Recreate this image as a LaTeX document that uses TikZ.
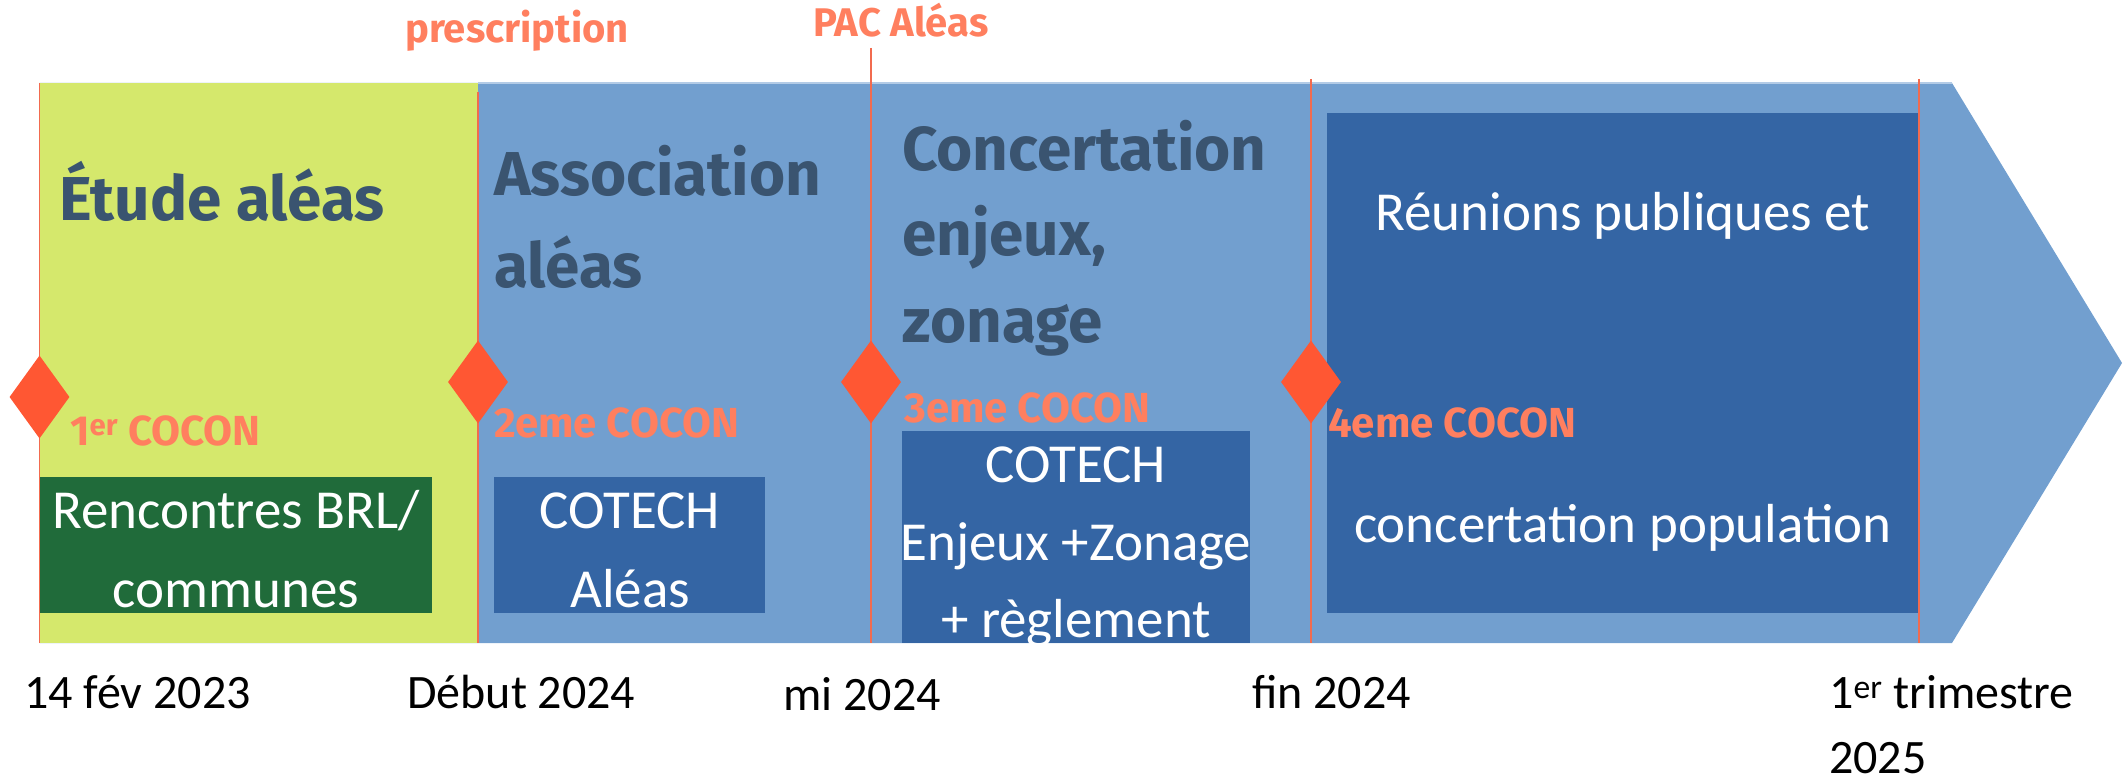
\documentclass[tikz,border=0pt]{standalone}
\usepackage{fontspec}
\usetikzlibrary{shapes.geometric}
\newfontfamily\titlefont{Fira Sans}
\newfontfamily\calfont{Carlito}
\definecolor{bandgreen}{HTML}{D5E86C}
\definecolor{bandblue}{HTML}{729FCF}
\definecolor{boxblue}{HTML}{3465A4}
\definecolor{boxgreen}{HTML}{206B3A}
\definecolor{titleblue}{HTML}{3A5470}
\definecolor{diamondred}{HTML}{FF5733}
\definecolor{salmon}{HTML}{FF7F5F}
\definecolor{linered}{HTML}{F26B4F}
\definecolor{edgeblue}{HTML}{B3CBE6}
\tikzset{
  title/.style={anchor=base west, inner sep=0pt, text=titleblue,
    font=\titlefont\bfseries\fontsize{62}{62}\selectfont},
  cocon/.style={anchor=base west, inner sep=0pt, text=salmon,
    font=\titlefont\bfseries\fontsize{42}{42}\selectfont},
  toplabel/.style={anchor=base west, inner sep=0pt, text=salmon,
    font=\titlefont\bfseries\fontsize{40}{40}\selectfont},
  boxtext/.style={anchor=base, inner sep=0pt, text=white,
    font=\calfont\fontsize{55}{55}\selectfont},
  datetext/.style={anchor=base west, inner sep=0pt, text=black,
    font=\calfont\fontsize{48}{48}\selectfont},
  milestone/.style={diamond, fill=diamondred, draw=none, inner sep=0pt,
    minimum width=60pt, minimum height=83pt},
  marker/.style={draw=linered, line width=1.3pt},
}
\begin{document}
\begin{tikzpicture}[x=1pt,y=-1pt]
\useasboundingbox (0,0) rectangle (2125,781);
% arrow band
\fill[bandblue] (39.5,83) -- (1952,83) -- (2122,363) -- (1952,643) -- (39.5,643) -- cycle;
\draw[edgeblue, line width=1.5pt] (478,83) -- (1952,83);
\fill[bandgreen] (39.5,83) rectangle (478,643);
% boxes
\node[fill=boxgreen, minimum width=392.5pt, minimum height=136pt, inner sep=0pt, anchor=north west] (brl) at (39.5,477) {};
\node[fill=boxblue, minimum width=271pt, minimum height=136pt, inner sep=0pt, anchor=north west] (cot1) at (494,477) {};
\node[fill=boxblue, minimum width=348pt, minimum height=212pt, inner sep=0pt, anchor=north west] (cot2) at (902,431) {};
\node[fill=boxblue, minimum width=592pt, minimum height=500pt, inner sep=0pt, anchor=north west] (reu) at (1327,113) {};
% vertical marker lines
\coordinate (m1t) at (39.5,83);   \coordinate (m1b) at (39.5,643);
\coordinate (m2t) at (478,92);    \coordinate (m2b) at (478,643);
\coordinate (m3t) at (871,48);    \coordinate (m3b) at (871,643);
\coordinate (m4t) at (1311,79);   \coordinate (m4b) at (1311,643);
\coordinate (m5t) at (1919,79);   \coordinate (m5b) at (1919,643);
\draw[marker] (m1t) -- (m1b);
\draw[marker] (m2t) -- (m2b);
\draw[marker] (m3t) -- (m3b);
\draw[marker] (m4t) -- (m4b);
\draw[marker] (m5t) -- (m5b);
% diamonds
\node[milestone] (d1) at (39.5,397) {};
\node[milestone] (d2) at (478,382) {};
\node[milestone] (d3) at (871,382) {};
\node[milestone] (d4) at (1311,382) {};
% top labels
\node[toplabel] (presc) at (405,43) {prescription};
\node[toplabel] (pac) at (813,37) {PAC Aléas};
% phase titles
\node[title] (t1) at (59,220) {Étude aléas};
\node[title] (t2a) at (494,195) {Association};
\node[title] (t2b) at (494,287) {aléas};
\node[title] (t3a) at (902,170) {Concertation};
\node[title] (t3b) at (902,255) {enjeux,};
\node[title] (t3c) at (902,342) {zonage};
% COCON labels
\node[cocon] (c1) at (70,445) {1\textsuperscript{er} COCON};
\node[cocon] (c2) at (494,437) {2eme COCON};
\node[cocon] (c3) at (904,422) {3eme COCON};
\node[cocon] (c4) at (1328,437) {4eme COCON};
% box texts
\node[boxtext] (b1a) at (236,528) {Rencontres BRL/};
\node[boxtext] (b1b) at (236,607) {communes};
\node[boxtext] (b2a) at (630,528) {COTECH};
\node[boxtext] (b2b) at (630,607) {Aléas};
\begin{scope}
\clip (902,431) rectangle (1250,643);
\node[boxtext] (b3a) at (1076,482) {COTECH};
\node[boxtext] (b3b) at (1076,560) {Enjeux +Zonage};
\node[boxtext] (b3c) at (1076,637) {+ règlement};
\end{scope}
\node[boxtext] (b4a) at (1623,230) {Réunions publiques et};
\node[boxtext] (b4b) at (1623,542) {concertation population};
% dates
\node[datetext] (dt1) at (24,708) {14 fév 2023};
\node[datetext] (dt2) at (407,708) {Début 2024};
\node[datetext] (dt3) at (783,710) {mi 2024};
\node[datetext] (dt4) at (1252,708) {fin 2024};
\node[datetext] (dt5) at (1829,708) {1\textsuperscript{er} trimestre};
\node[datetext] (dt6) at (1829,773) {2025};
\end{tikzpicture}
\end{document}
